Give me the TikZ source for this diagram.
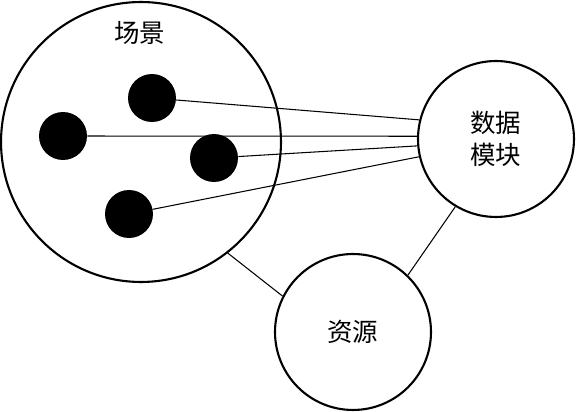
\documentclass[tikz,border=0pt]{standalone}
\usepackage{fontspec}
\newfontfamily\cjk{Noto Sans CJK SC}
\begin{document}
\begin{tikzpicture}[x=0.02cm,y=-0.02cm,
  bigc/.style={circle,draw,line width=1.2pt,inner sep=0pt},
  dot/.style={circle,fill=black,minimum size=0.96cm,inner sep=0pt},
  lnk/.style={line width=0.6pt}]
\useasboundingbox (0,0) rectangle (576,412);
\node[bigc,minimum size=5.6cm] (scene) at (141,142) {};
\node[bigc,minimum size=3.12cm,align=center,font=\cjk\fontsize{14.5pt}{18.2pt}\selectfont] (data) at (496,139) {数据\\模块};
\node[bigc,minimum size=3.12cm,font=\cjk\fontsize{14.5pt}{18pt}\selectfont] (res) at (353,332) {资源};
\node[font=\cjk\fontsize{14.5pt}{18pt}\selectfont] (title) at (140,33) {场景};
\foreach \n/\x/\y in {a/152/98,b/63/136,c/214/158,d/129/214}{\node[dot] (\n) at (\x,\y) {};}
\draw[lnk] (a)--(data.166.8);
\draw[lnk] (b)--(data.178.5);
\draw[lnk] (c)--(data.185.9);
\draw[lnk] (d)--(data.193.2);
\draw[lnk] (scene.-52.2)--(res.153.8);
\draw[lnk] (data.239.2)--(res.46);
\end{tikzpicture}
\end{document}
